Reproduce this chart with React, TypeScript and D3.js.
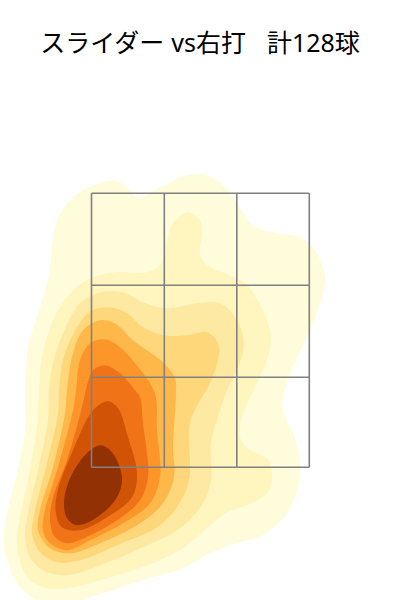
import React from "react";
import * as d3 from "d3";

type Pt = [number, number];

const titleText = "スライダー vs右打\u00a0\u00a0\u00a0計128球";

const levelColors = ["#fffcdb", "#fff5be", "#fee9a3", "#fed77b", "#feb849", "#fd962a", "#f07318", "#d15306", "#923204"];

const contour1: Pt[] = [[-85,287],[-75,282],[-62,270],[-40,280],[-13,292],[7,292],[23,282],[37,264],[53,242],[77,234],[100,230],[117,214],[125,190],[122,170],[110,137],[93,100],[83,70],[83,57],[93,34],[100,7],[98,-20],[87,-46],[63,-68],[37,-76],[10,-86],[-17,-101],[-57,-113],[-120,-133],[-150,-139],[-167,-131],[-183,-116],[-193,-93],[-196,-73],[-193,-46],[-183,-6],[-175,37],[-175,77],[-172,120],[-160,160],[-150,197],[-148,220],[-143,247],[-127,270],[-107,282]];
const contour2: Pt[] = [[-161,77],[-158,110],[-147,147],[-127,177],[-107,190],[-83,195],[-53,195],[-40,202],[-33,227],[-27,244],[-12,255],[0,247],[2,234],[0,214],[7,202],[30,192],[47,182],[63,157],[71,130],[67,107],[57,84],[43,54],[40,30],[50,17],[67,9],[72,-10],[67,-26],[47,-38],[27,-45],[7,-61],[-20,-83],[-53,-98],[-100,-113],[-133,-121],[-157,-120],[-173,-110],[-182,-86],[-183,-70],[-178,-40],[-170,-3],[-162,50]];
const contour3: Pt[] = [[-151,77],[-148,100],[-137,134],[-120,164],[-100,175],[-77,175],[-57,165],[-33,159],[-3,164],[20,164],[37,147],[44,124],[38,100],[27,77],[17,47],[11,24],[11,-13],[3,-36],[-20,-61],[-57,-80],[-100,-98],[-133,-108],[-157,-103],[-170,-90],[-175,-70],[-172,-46],[-162,-3],[-152,47]];
const contour4: Pt[] = [[-141,77],[-137,107],[-123,140],[-108,157],[-90,160],[-73,154],[-57,140],[-37,132],[-13,132],[7,135],[18,124],[18,107],[8,80],[0,67],[-10,44],[-11,-13],[-23,-40],[-43,-60],[-83,-78],[-120,-93],[-143,-95],[-160,-85],[-168,-66],[-165,-43],[-153,4],[-142,54]];
const contour5: Pt[] = [[-133,77],[-128,110],[-117,137],[-100,147],[-85,144],[-67,127],[-37,105],[-25,89],[-24,74],[-27,20],[-26,-10],[-37,-36],[-60,-56],[-100,-76],[-130,-86],[-150,-81],[-162,-63],[-160,-43],[-147,0],[-135,54]];
const contour6: Pt[] = [[-124,77],[-120,107],[-110,124],[-95,128],[-80,120],[-57,94],[-45,74],[-43,37],[-40,-10],[-50,-36],[-77,-56],[-110,-73],[-133,-83],[-150,-76],[-157,-63],[-155,-43],[-142,0],[-127,57]];
const contour7: Pt[] = [[-113,82],[-107,97],[-95,102],[-80,94],[-65,77],[-60,70],[-57,44],[-52,-10],[-60,-33],[-83,-53],[-110,-68],[-132,-76],[-145,-70],[-150,-53],[-147,-30],[-133,7],[-118,60]];
const contour8: Pt[] = [[-92,66],[-82,59],[-72,30],[-63,-6],[-68,-30],[-93,-50],[-120,-63],[-138,-60],[-144,-46],[-143,-26],[-127,17],[-107,57]];
const contour9: Pt[] = [[-100,22],[-88,15],[-78,-10],[-83,-30],[-103,-50],[-123,-58],[-133,-51],[-136,-36],[-132,-16],[-117,10]];

const contours = [contour1, contour2, contour3, contour4, contour5, contour6, contour7, contour8, contour9];

const zoneXEdges = [-108.5, -35.7, 36.8, 109.3];
const zoneYEdges = [0, 90, 182, 274];

export default function App() {
  const x = d3.scaleLinear().domain([-109, 109]).range([91, 309]);
  const y = d3.scaleLinear().domain([0, 274]).range([467.3, 193.3]);
  const area = d3
    .line<Pt>()
    .x((d) => x(d[0]))
    .y((d) => y(d[1]))
    .curve(d3.curveCatmullRomClosed.alpha(0.5));

  const xMin = zoneXEdges[0];
  const xMax = zoneXEdges[zoneXEdges.length - 1];
  const yMin = zoneYEdges[0];
  const yMax = zoneYEdges[zoneYEdges.length - 1];

  return (
    <svg
      width={400}
      height={600}
      viewBox="0 0 400 600"
      style={{ position: "fixed", left: 0, top: 0, background: "#fff" }}
    >
      {contours.map((c, i) => (
        <path key={i} d={area(c) ?? ""} fill={levelColors[i]} stroke="none" />
      ))}
      <g stroke="#808080" strokeWidth={1.6} fill="none">
        {zoneXEdges.map((v) => (
          <line key={"x" + v} x1={x(v)} x2={x(v)} y1={y(yMin)} y2={y(yMax)} />
        ))}
        {zoneYEdges.map((v) => (
          <line key={"y" + v} x1={x(xMin)} x2={x(xMax)} y1={y(v)} y2={y(v)} />
        ))}
      </g>
      <text
        x={200}
        y={52}
        textAnchor="middle"
        fontSize={25}
        wordSpacing={0.5}
        fill="#000"
        fontFamily="'Noto Sans', 'Noto Sans CJK JP', sans-serif"
      >
        {titleText}
      </text>
    </svg>
  );
}
